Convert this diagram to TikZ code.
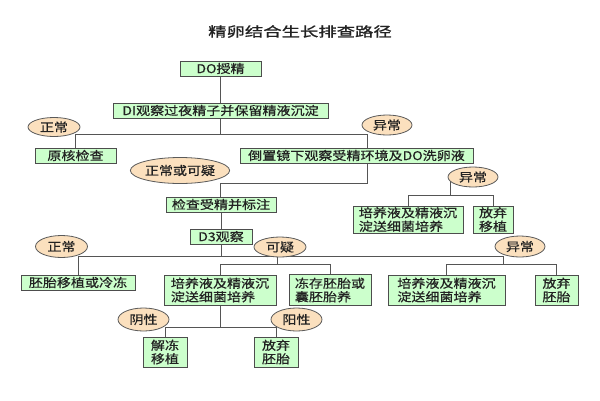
\documentclass[tikz,border=0pt]{standalone}
\usepackage{fontspec}
\setmainfont{Noto Sans CJK SC}
\newfontfamily\boxfont[FakeStretch=1.17,FakeBold=0.6]{Noto Sans CJK SC}
\newfontfamily\titlefont[FakeStretch=1.36,FakeBold=1.2]{Noto Sans CJK SC}
\usetikzlibrary{shapes.geometric}
\pgfdeclarelayer{bg}
\pgfsetlayers{bg,main}
\definecolor{boxfill}{HTML}{CCFFCC}
\definecolor{boxline}{HTML}{4D4D4D}
\definecolor{ovfill}{HTML}{FBE0BE}
\definecolor{ovline}{HTML}{5A5A5A}
\definecolor{lncol}{HTML}{555555}
\definecolor{txt}{HTML}{222222}
\tikzset{
  box/.style={draw=boxline, fill=boxfill, line width=0.8pt, inner sep=0pt,
    font=\boxfont\fontsize{12}{13.5}\selectfont, text=txt},
  oval/.style={ellipse, draw=ovline, fill=ovfill, line width=0.8pt, inner sep=0pt,
    font=\boxfont\fontsize{12}{13.5}\selectfont, text=txt},
  conn/.style={draw=lncol, line width=0.8pt},
}
\begin{document}
\begin{tikzpicture}[x=1pt,y=-1pt]
\useasboundingbox (0,0) rectangle (600,400);
% title
\node[text=txt] (title) at (300,31.5) {\titlefont\fontsize{13.5}{14}\selectfont 精卵结合生长排查路径};
% boxes
\node[box, minimum width=81pt, minimum height=15pt] (do) at (220.5,68.5) {DO授精};
\node[box, minimum width=215pt, minimum height=15pt] (di) at (220.5,110.5) {DI观察过夜精子并保留精液沉淀};
\node[box, minimum width=81pt, minimum height=15pt] (yh) at (75.5,155.5) {原核检查};
\node[box, minimum width=233pt, minimum height=15pt] (dz) at (356.5,155.5) {倒置镜下观察受精环境及DO洗卵液};
\node[box, minimum width=110pt, minimum height=27pt, align=left] (pa) at (408,219.5) {培养液及精液沉\\淀送细菌培养};
\node[box, minimum width=40pt, minimum height=27pt, align=left] (fa) at (493,219.5) {放弃\\移植};
\node[box, minimum width=110pt, minimum height=15pt] (jc) at (221,204.5) {检查受精并标注};
\node[box, minimum width=62pt, minimum height=15pt] (d3) at (221,236.5) {D3观察};
\node[box, minimum width=114pt, minimum height=15pt] (pt) at (78,282.5) {胚胎移植或冷冻};
\node[box, minimum width=112pt, minimum height=30pt, align=left] (pb) at (220,290) {培养液及精液沉\\淀送细菌培养};
\node[box, minimum width=82pt, minimum height=31pt, align=left] (dc) at (330,290) {冻存胚胎或\\囊胚胎养};
\node[box, minimum width=117pt, minimum height=30pt, align=left] (pc) at (446.5,290) {培养液及精液沉\\淀送细菌培养};
\node[box, minimum width=43pt, minimum height=30pt, align=left] (fb) at (556.5,290) {放弃\\胚胎};
\node[box, minimum width=44pt, minimum height=30pt, align=left] (jd) at (165,352) {解冻\\移植};
\node[box, minimum width=44pt, minimum height=30pt, align=left] (fe) at (276,352) {放弃\\胚胎};
% ovals
\node[oval, minimum width=52pt, minimum height=19pt] (o1) at (54,127) {正常};
\node[oval, minimum width=50pt, minimum height=20pt] (o2) at (387,125) {异常};
\node[oval, minimum width=86pt, minimum height=26pt] (o3) at (180,170.5) {正常或可疑};
\node[oval, minimum width=50pt, minimum height=20pt] (o4) at (473,177) {异常};
\node[oval, minimum width=52pt, minimum height=22pt] (o5) at (61.5,246.5) {正常};
\node[oval, minimum width=52pt, minimum height=20pt] (o6) at (280,247) {可疑};
\node[oval, minimum width=50pt, minimum height=21pt] (o7) at (520,246.5) {异常};
\node[oval, minimum width=51pt, minimum height=23pt] (o8) at (143.5,319.5) {阴性};
\node[oval, minimum width=51pt, minimum height=23pt] (o9) at (296.5,319.5) {阳性};
% junction coordinates
\coordinate (a1) at (75,134);
\coordinate (a2) at (367,134);
\coordinate (b1) at (367,183);
\coordinate (b2) at (220.5,183);
\coordinate (c1) at (450,195);
\coordinate (e1) at (78,256);
\coordinate (e2) at (503,256);
\coordinate (f1) at (277,264);
\coordinate (g1) at (503,264);
\coordinate (h1) at (220,327);
\begin{pgfonlayer}{bg}
\fill[white] (0,0) rectangle (600,400);
\draw[conn] (do.south) -- (di.north);
\draw[conn] (di.south) -- (di.south |- a1);
\draw[conn] (a1) -- (a2);
\draw[conn] (a1) -- (a1 |- yh.north);
\draw[conn] (a2) -- (a2 |- dz.north);
\draw[conn] (b1 |- dz.south) -- (b1) -- (b2) -- (b2 |- jc.north);
\draw[conn] (o4.center -| c1) -- (c1);
\draw[conn] (pa.north) -- (pa.north |- c1) -- (fa.north |- c1) -- (fa.north);
\draw[conn] (jc.south) -- (d3.north);
\draw[conn] (d3.south) -- (d3.south |- e1);
\draw[conn] (e1) -- (e2);
\draw[conn] (e1) -- (e1 |- pt.north);
\draw[conn] (o6.center -| f1) -- (f1);
\draw[conn] (pb.north) -- (pb.north |- f1) -- (dc.north |- f1) -- (dc.north);
\draw[conn] (e2) -- (g1);
\draw[conn] (pc.north) -- (pc.north |- g1) -- (fb.north |- g1) -- (fb.north);
\draw[conn] (pb.south) -- (h1);
\draw[conn] (jd.north) -- (jd.north |- h1) -- (fe.north |- h1) -- (fe.north);
\end{pgfonlayer}
\end{tikzpicture}
\end{document}
